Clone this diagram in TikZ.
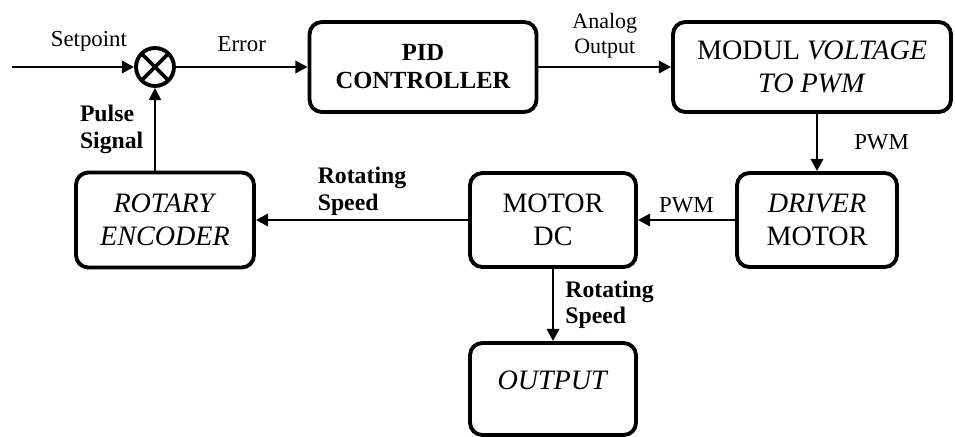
\documentclass[tikz,border=0pt]{standalone}
\usepackage{fontspec}
\setmainfont{Liberation Serif}
\usetikzlibrary{arrows.meta}
\begin{document}
\begin{tikzpicture}[x=0.02cm, y=-0.02cm, every node/.style={font=\fontsize{13}{14}\selectfont},
  st/.style={draw,line width=2.2pt,rounded corners=7pt,align=center,font=\fontsize{16}{19}\selectfont},
  arr/.style={-{Triangle[length=7pt,width=7pt]},line width=1.6pt},
  lbl/.style={font=\bfseries\fontsize{13.5}{15}\selectfont,align=left,inner sep=2pt}]
\useasboundingbox (0,0) rectangle (955,436);
\node[draw,circle,line width=2.2pt,minimum size=0.76cm,inner sep=0pt,
  path picture={\draw[line width=2.2pt] (path picture bounding box.north west) -- (path picture bounding box.south east)
  (path picture bounding box.north east) -- (path picture bounding box.south west);}] (sum) at (155,67) {};
\node[st,minimum width=4.54cm,minimum height=1.8cm,font=\bfseries\fontsize{14}{16}\selectfont] (pid) at (423,67) {PID\\CONTROLLER};
\node[st,minimum width=5.56cm,minimum height=1.8cm] (modul) at (812,67) {MODUL \textit{VOLTAGE}\\\textit{TO PWM}};
\node[st,minimum width=3.2cm,minimum height=1.88cm] (driver) at (817,220) {\textit{DRIVER}\\MOTOR};
\node[st,minimum width=3.32cm,minimum height=1.88cm] (motor) at (553,220) {MOTOR\\DC};
\node[st,minimum width=3.56cm,minimum height=1.9cm] (enc) at (165,220) {\textit{ROTARY}\\\textit{ENCODER}};
\node[st,minimum width=3.32cm,minimum height=1.84cm,text depth=10pt] (out) at (553,389) {\textit{OUTPUT}};
\coordinate (in) at (12,67);
\draw[arr] (in) -- (sum) node[pos=0.63,above=0.16cm] (lsp) {Setpoint};
\draw[arr] (sum) -- (pid) node[midway,above=0.16cm] (lerr) {Error};
\draw[arr] (pid) -- (modul) node[midway,above=0.03cm,align=center,font=\fontsize{12.5}{14}\selectfont] (lana) {Analog\\Output};
\draw[arr] (modul.south -| driver) -- (driver) node[midway,right=0.6cm] (lpwm1) {PWM};
\draw[arr] (driver) -- (motor) node[midway,above] (lpwm2) {PWM};
\draw[arr] (motor) -- (enc) node[midway,above,lbl] (lrs1) {Rotating\\Speed};
\draw[-{Triangle[length=7pt,width=7pt]},line width=0.8pt] (enc.north -| sum) -- (sum) node[midway,left=0.15cm,lbl] (lps) {Pulse\\Signal};
\draw[arr] (motor) -- (out) node[midway,right=0.15cm,lbl] (lrs2) {Rotating\\Speed};
\end{tikzpicture}
\end{document}
